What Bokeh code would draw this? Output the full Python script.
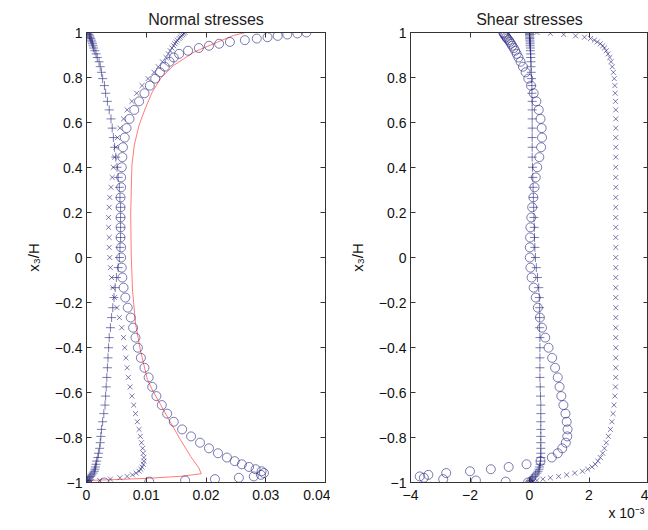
from bokeh.plotting import figure
from bokeh.models import Range1d, LinearAxis, FixedTicker, CustomJSTickFormatter, Title
from bokeh.layouts import row
from bokeh.embed import file_html
from bokeh.resources import INLINE

# ---------------- data ----------------
# wall-normal coordinate x3/H (shared grid of the profiles)
y_grid = [1.000, 0.996, 0.991, 0.985, 0.979, 0.973, 0.966, 0.958, 0.950, 0.941, 0.931, 0.919,
          0.905, 0.889, 0.870, 0.848, 0.823, 0.795, 0.764, 0.730, 0.694, 0.656, 0.616, 0.575,
          0.533, 0.490, 0.446, 0.401, 0.356, 0.312, 0.267, 0.223, 0.178, 0.134, 0.089, 0.045,
          0.000, -0.045, -0.089, -0.134, -0.178, -0.223, -0.267, -0.312, -0.356, -0.401, -0.446, -0.490,
          -0.533, -0.575, -0.616, -0.656, -0.694, -0.730, -0.764, -0.795, -0.823, -0.848, -0.870, -0.889,
          -0.905, -0.919, -0.931, -0.941, -0.950, -0.958, -0.966, -0.973, -0.979, -0.985, -0.991, -0.996, -1.000]

# Normal stresses
normal_o = [0.0368, 0.0353, 0.0336, 0.0320, 0.0303, 0.0285, 0.0265, 0.0240, 0.0222, 0.0205, 0.0188, 0.0170,
            0.0155, 0.0146, 0.0139, 0.0131, 0.0123, 0.0115, 0.0106, 0.0097, 0.0088, 0.0080, 0.0072, 0.0067,
            0.0064, 0.0061, 0.0060, 0.0059, 0.0058, 0.0058, 0.0057, 0.0057, 0.0057, 0.0057, 0.0057, 0.0058,
            0.0058, 0.0059, 0.0060, 0.0062, 0.0065, 0.0069, 0.0074, 0.0078, 0.0082, 0.0086, 0.0091, 0.0097,
            0.0104, 0.0110, 0.0117, 0.0126, 0.0135, 0.0146, 0.0160, 0.0175, 0.0190, 0.0205, 0.0220, 0.0235,
            0.0248, 0.0260, 0.0272, 0.0283, 0.0293, 0.0297, 0.0292, 0.0280, 0.0255, 0.0215, 0.0165, 0.0105, 0.0030]
normal_plus = [0.0000, 0.0002, 0.0004, 0.0005, 0.0006, 0.0007, 0.0008, 0.0009, 0.0010, 0.0011, 0.0012, 0.0014,
               0.0016, 0.0018, 0.0021, 0.0023, 0.0025, 0.0027, 0.0030, 0.0032, 0.0035, 0.0038, 0.0041, 0.0043,
               0.0045, 0.0047, 0.0049, 0.0051, 0.0053, 0.0055, 0.0056, 0.0057, 0.0057, 0.0057, 0.0057, 0.0056,
               0.0055, 0.0053, 0.0050, 0.0048, 0.0046, 0.0044, 0.0042, 0.0040, 0.0038, 0.0037, 0.0036, 0.0035,
               0.0034, 0.0033, 0.0032, 0.0031, 0.0029, 0.0027, 0.0025, 0.0024, 0.0023, 0.0022, 0.0020, 0.0019,
               0.0017, 0.0016, 0.0015, 0.0014, 0.0013, 0.0011, 0.0009, 0.0007, 0.0005, 0.0003, 0.0002, 0.0001, 0.0000]
normal_x = [0.0165, 0.0163, 0.0161, 0.0159, 0.0157, 0.0155, 0.0152, 0.0150, 0.0148, 0.0146, 0.0143, 0.0140,
            0.0137, 0.0133, 0.0127, 0.0120, 0.0113, 0.0103, 0.0093, 0.0084, 0.0076, 0.0068, 0.0062, 0.0056,
            0.0052, 0.0049, 0.0047, 0.0045, 0.0043, 0.0041, 0.0039, 0.0038, 0.0037, 0.0037, 0.0038, 0.0038,
            0.0039, 0.0040, 0.0042, 0.0044, 0.0047, 0.0051, 0.0055, 0.0059, 0.0062, 0.0064, 0.0066, 0.0068,
            0.0070, 0.0073, 0.0076, 0.0079, 0.0082, 0.0085, 0.0088, 0.0090, 0.0092, 0.0094, 0.0095, 0.0096,
            0.0096, 0.0095, 0.0093, 0.0091, 0.0088, 0.0083, 0.0077, 0.0068, 0.0056, 0.0040, 0.0022, 0.0008, 0.0000]
normal_line_x = [0.0000, 0.0049, 0.0105, 0.0160, 0.0192, 0.0188, 0.0174, 0.0157, 0.0141, 0.0124, 0.0110, 0.0102,
                 0.0090, 0.0082, 0.0077, 0.0075, 0.0074, 0.0076, 0.0080, 0.0088, 0.0098, 0.0110, 0.0125, 0.0146,
                 0.0180, 0.0219, 0.0246, 0.0266]
normal_line_y = [-0.991, -0.987, -0.981, -0.972, -0.961, -0.935, -0.883, -0.809, -0.735, -0.654, -0.588, -0.543,
                 -0.410, -0.292, -0.144, 0.000, 0.196, 0.410, 0.500, 0.588, 0.660, 0.735, 0.800, 0.854,
                 0.913, 0.957, 0.987, 1.000]

# Shear stresses (units of 1e-3)
shear_o = [-0.88, -0.86, -0.84, -0.81, -0.78, -0.75, -0.70, -0.66, -0.62, -0.58, -0.53, -0.48,
           -0.43, -0.37, -0.30, -0.22, -0.13, -0.04, 0.05, 0.14, 0.23, 0.31, 0.37, 0.41,
           0.42, 0.39, 0.33, 0.26, 0.21, 0.17, 0.13, 0.09, 0.06, 0.03, 0.02, 0.01,
           0.01, 0.03, 0.07, 0.14, 0.21, 0.28, 0.35, 0.42, 0.53, 0.64, 0.76, 0.86,
           0.95, 1.01, 1.07, 1.14, 1.21, 1.25, 1.28, 1.27, 1.22, 1.10, 0.95, 0.75,
           0.37, -0.10, -0.70, -1.30, -2.00, -2.80, -3.40, -3.69, -3.55, -2.90, -1.80, -0.80, -0.05]
shear_plus = [0.00, 0.00, 0.00, 0.00, 0.01, 0.01, 0.01, 0.02, 0.02, 0.02, 0.03, 0.03,
              0.04, 0.04, 0.05, 0.05, 0.06, 0.07, 0.08, 0.08, 0.09, 0.09, 0.09, 0.09,
              0.09, 0.09, 0.09, 0.10, 0.11, 0.12, 0.13, 0.14, 0.15, 0.16, 0.17, 0.18,
              0.20, 0.23, 0.27, 0.31, 0.33, 0.34, 0.34, 0.34, 0.35, 0.35, 0.35, 0.35,
              0.35, 0.36, 0.37, 0.38, 0.38, 0.38, 0.38, 0.38, 0.38, 0.38, 0.38, 0.38,
              0.37, 0.36, 0.34, 0.32, 0.29, 0.25, 0.20, 0.15, 0.10, 0.06, 0.03, 0.01, 0.00]
shear_x = [0.25, 0.70, 1.15, 1.55, 1.85, 2.05, 2.18, 2.28, 2.38, 2.46, 2.52, 2.58,
           2.64, 2.70, 2.74, 2.78, 2.82, 2.85, 2.87, 2.88, 2.89, 2.90, 2.90, 2.90,
           2.90, 2.90, 2.90, 2.90, 2.90, 2.90, 2.90, 2.90, 2.90, 2.90, 2.90, 2.90,
           2.90, 2.90, 2.90, 2.90, 2.90, 2.90, 2.90, 2.90, 2.90, 2.90, 2.90, 2.90,
           2.90, 2.89, 2.87, 2.84, 2.81, 2.77, 2.72, 2.65, 2.58, 2.52, 2.46, 2.38,
           2.30, 2.21, 2.10, 1.96, 1.78, 1.52, 1.25, 0.98, 0.70, 0.45, 0.25, 0.12, 0.05]

normal_xticks = [0, 0.01, 0.02, 0.03, 0.04]
shear_xticks = [-4, -2, 0, 2, 4]
y_ticks = [-1, -0.8, -0.6, -0.4, -0.2, 0, 0.2, 0.4, 0.6, 0.8, 1]

# ---------------- styling ----------------
FONT = "Liberation Sans"
NAVY = "#24247c"
RED = "#ff5a5a"
AX = "#333333"

FMT_CODE = """
const s = String(Number(tick.toFixed(4)));
return s.replace("-", "\u2212");
"""
EMPTY_CODE = 'return "";'


def make_fig(title, width, xr, xticks, left_border, right_border):
    p = figure(width=width, height=530, x_range=Range1d(*xr), y_range=Range1d(-1, 1),
               output_backend="svg", toolbar_location=None,
               min_border_left=left_border, min_border_right=right_border,
               min_border_top=32, min_border_bottom=48)
    p.title.text = title
    p.title.align = "center"
    p.title.text_font = FONT
    p.title.text_font_size = "16px"
    p.title.text_font_style = "normal"
    p.title.text_color = "#222222"
    p.xgrid.visible = False
    p.ygrid.visible = False
    p.outline_line_color = AX
    p.outline_line_width = 1
    p.background_fill_color = "white"
    p.border_fill_color = "white"

    # mirrored axes (MATLAB "box on" with inward ticks), no labels
    p.add_layout(LinearAxis(formatter=CustomJSTickFormatter(code=EMPTY_CODE)), "above")
    p.add_layout(LinearAxis(formatter=CustomJSTickFormatter(code=EMPTY_CODE)), "right")

    for ax in p.xaxis:
        ax.ticker = FixedTicker(ticks=xticks)
    for ax in p.yaxis:
        ax.ticker = FixedTicker(ticks=y_ticks)

    for ax in p.axis:
        ax.major_tick_in = 5
        ax.major_tick_out = 0
        ax.minor_tick_in = 0
        ax.minor_tick_out = 0
        ax.axis_line_color = AX
        ax.major_tick_line_color = AX
        ax.major_label_text_font = FONT
        ax.major_label_text_font_size = "14px"
        ax.major_label_text_color = "#111111"

    for ax in (p.above[0], p.right[0]):
        ax.major_label_text_font_size = "0px"
        ax.major_label_text_color = None
        ax.major_label_standoff = 0

    p.below[0].formatter = CustomJSTickFormatter(code=FMT_CODE)
    p.left[0].formatter = CustomJSTickFormatter(code=FMT_CODE)
    p.below[0].major_label_standoff = 7
    yl = p.left[0]
    yl.major_label_standoff = 4
    yl.axis_label = "x\u2083/H"
    yl.axis_label_text_font = FONT
    yl.axis_label_text_font_size = "15px"
    yl.axis_label_text_font_style = "normal"
    yl.axis_label_standoff = 10
    yl.axis_label_text_color = "#111111"
    return p


def markers(p, xs):
    o, plus, x = xs
    p.scatter(o, y_grid, marker="circle", size=9, fill_color=None,
              line_color=NAVY, line_alpha=0.75, line_width=0.8)
    p.scatter(plus, y_grid, marker="cross", size=9,
              line_color=NAVY, line_alpha=0.75, line_width=0.8)
    p.scatter(x, y_grid, marker="x", size=7,
              line_color=NAVY, line_alpha=0.75, line_width=0.8)


p1 = make_fig("Normal stresses", 330, (0, 0.04), normal_xticks, 86, 5)
p1.line(normal_line_x, normal_line_y, line_color=RED, line_width=1, line_alpha=0.8)
markers(p1, (normal_o, normal_plus, normal_x))

p2 = make_fig("Shear stresses", 318, (-4, 4), shear_xticks, 80, 0)
markers(p2, (shear_o, shear_plus, shear_x))
p2.add_layout(Title(text="x 10\u207b\u00b3", align="right", text_font=FONT,
                    text_font_size="14px", text_font_style="normal",
                    text_color="#111111", standoff=0, offset=4), "below")

layout = row(p1, p2)
open("out.html", "w").write(file_html(layout, INLINE))
